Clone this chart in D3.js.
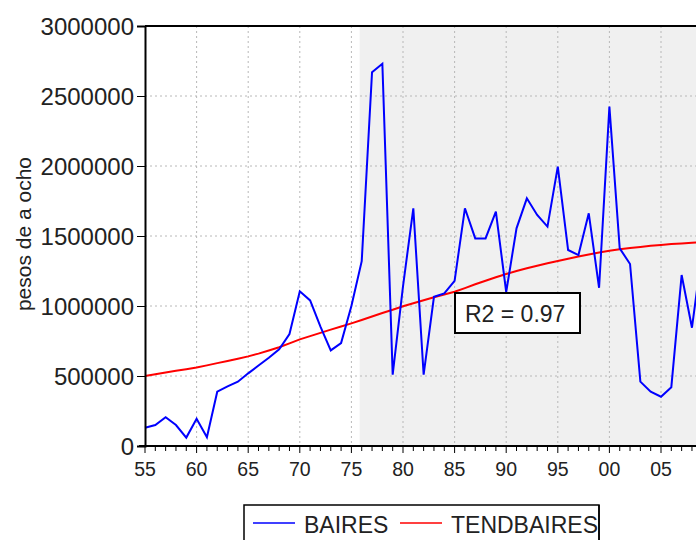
<!DOCTYPE html>
<html>
<head>
<meta charset="utf-8">
<script src="https://cdnjs.cloudflare.com/ajax/libs/d3/7.8.5/d3.min.js"></script>
<style>
body { margin: 0; background: #fff; }
svg text { font-family: "Liberation Sans", Arial, sans-serif; fill: #222; }
</style>
</head>
<body>
<div id="chart"></div>
<script>
// years 1755..1809
var years = d3.range(1755, 1810);

// BAIRES, pesos de a ocho
var baires = [130000, 150000, 205000, 150000, 60000, 195000, 62000, 388000, 426000, 459000,
    519000, 575000, 630000, 690000, 800000, 1105000, 1040000, 852000, 683000, 735000,
    1000000, 1320000, 2670000, 2730000, 510000, 1140000, 1698000, 510000, 1066000, 1090000,
    1180000, 1698000, 1483000, 1483000, 1674000, 1100000, 1555000, 1769000, 1650000, 1567000,
    1995000, 1400000, 1364000, 1662000, 1130000, 2424000, 1412000, 1300000, 460000, 388000,
    352000, 420000, 1221000, 845000, 1400000];

// TENDBAIRES (trend)
var tendbaires = [500000, 512000, 525000, 537000, 549000, 560000, 576000, 592000, 607000, 623000,
    640000, 660000, 682000, 705000, 733000, 762000, 785000, 808000, 831000, 853000,
    876000, 900000, 925000, 950000, 973000, 998000, 1020000, 1041000, 1062000, 1082000,
    1102000, 1128000, 1155000, 1180000, 1205000, 1229000, 1250000, 1269000, 1287000, 1305000,
    1322000, 1338000, 1353000, 1368000, 1382000, 1395000, 1405000, 1414000, 1422000, 1430000,
    1436000, 1442000, 1447000, 1452000, 1455000];

var yTicks = [0, 500000, 1000000, 1500000, 2000000, 2500000, 3000000];
var xTicks = [1755, 1760, 1765, 1770, 1775, 1780, 1785, 1790, 1795, 1800, 1805];
var shadeFrom = 1775.8;
var seriesNames = ["BAIRES", "TENDBAIRES"];
var r2Label = "R2 = 0.97";

/**
 * Constructor for the Baires chart
 */
function BairesChart(){
    var self = this;
    self.init();
};

BairesChart.prototype.init = function(){
    var self = this;
    self.width = 696;
    self.height = 540;
    self.left = 145;
    self.top = 26;
    self.bottom = 446;

    self.svg = d3.select("#chart").append("svg")
        .attr("width", self.width)
        .attr("height", self.height);

    self.x = d3.scaleLinear()
        .domain([1755, 1810])
        .range([self.left, self.left + 55 * 10.32]);
    self.y = d3.scaleLinear()
        .domain([0, 3000000])
        .range([self.bottom, self.top]);
};

BairesChart.prototype.update = function(){
    var self = this;
    var svg = self.svg;
    var x = self.x, y = self.y;

    //shaded period
    svg.append("rect")
        .attr("x", x(shadeFrom))
        .attr("y", self.top)
        .attr("width", self.width - x(shadeFrom))
        .attr("height", self.bottom - self.top)
        .attr("fill", "#f0f0f0");

    //grid
    svg.selectAll(".vgrid").data(xTicks.slice(1)).enter().append("line")
        .attr("x1", d => x(d)).attr("x2", d => x(d))
        .attr("y1", self.top).attr("y2", self.bottom)
        .attr("stroke", "#b8b8b8")
        .attr("stroke-dasharray", "2,3");
    svg.selectAll(".hgrid").data(yTicks.slice(1, -1)).enter().append("line")
        .attr("x1", self.left).attr("x2", self.width)
        .attr("y1", d => y(d)).attr("y2", d => y(d))
        .attr("stroke", "#b8b8b8")
        .attr("stroke-dasharray", "2,3");

    //lines
    var line = function(vals){
        return d3.line()
            .x((d, i) => x(years[i]))
            .y(d => y(d))(vals);
    };
    svg.append("path")
        .attr("d", line(tendbaires))
        .attr("fill", "none")
        .attr("stroke", "#ff0000")
        .attr("stroke-width", 2);
    svg.append("path")
        .attr("d", line(baires))
        .attr("fill", "none")
        .attr("stroke", "#0000ff")
        .attr("stroke-width", 2);

    //top frame
    svg.append("line")
        .attr("x1", self.left).attr("x2", self.width)
        .attr("y1", self.top).attr("y2", self.top)
        .attr("stroke", "#000").attr("stroke-width", 2);

    //y axis
    var yAxis = d3.axisLeft(y)
        .tickValues(yTicks)
        .tickSize(8)
        .tickPadding(3)
        .tickFormat(d3.format("d"));
    var gy = svg.append("g")
        .attr("transform", "translate(" + self.left + ",0)")
        .call(yAxis);
    gy.select(".domain").attr("stroke", "#000").attr("stroke-width", 2);
    gy.selectAll(".tick line").attr("stroke", "#000");
    gy.selectAll("text")
        .style("font-size", "24px")
        .attr("fill", "#222")
        .attr("dy", "0.36em");

    //x axis - minor ticks every year, labels every 5
    var gx = svg.append("g")
        .attr("transform", "translate(0," + self.bottom + ")");
    gx.append("line")
        .attr("x1", self.left - 6).attr("x2", self.width)
        .attr("stroke", "#000").attr("stroke-width", 2);
    gx.selectAll(".minor").data(d3.range(1755, 1811)).enter().append("line")
        .attr("x1", d => x(d)).attr("x2", d => x(d))
        .attr("y1", 0)
        .attr("y2", d => (d % 5 == 0) ? 7 : 5)
        .attr("stroke", "#000");
    gx.selectAll(".lbl").data(xTicks).enter().append("text")
        .attr("x", d => x(d))
        .attr("y", 30)
        .style("text-anchor", "middle")
        .style("font-size", "19.5px")
        .text(d => d3.format("02d")(d % 100));

    //axis title
    svg.append("text")
        .attr("transform", "translate(31,234) rotate(-90)")
        .style("text-anchor", "middle")
        .style("font-size", "21px")
        .text("pesos de a ocho");

    //R2 box
    var r2 = svg.append("g").attr("transform", "translate(455,293)");
    r2.append("rect")
        .attr("width", 125).attr("height", 40)
        .attr("fill", "#fff")
        .attr("stroke", "#000")
        .attr("stroke-width", 2);
    r2.append("text")
        .attr("x", 10).attr("y", 29)
        .style("font-size", "23px")
        .text(r2Label);

    //legend
    var lg = svg.append("g").attr("transform", "translate(244,505)");
    lg.append("rect")
        .attr("width", 355).attr("height", 50)
        .attr("fill", "#fff")
        .attr("stroke", "#000")
        .attr("stroke-width", 1.5);
    var colors = ["#0000ff", "#ff0000"];
    var offs = [9, 156];
    seriesNames.forEach(function(name, i){
        lg.append("line")
            .attr("x1", offs[i]).attr("x2", offs[i] + 42)
            .attr("y1", 18).attr("y2", 18)
            .attr("stroke", colors[i])
            .attr("stroke-width", 1.5);
        lg.append("text")
            .attr("x", offs[i] + 51)
            .attr("y", 28)
            .style("font-size", "23px")
            .text(name);
    });
    lg.append("line")
        .attr("x1", 355).attr("x2", 355)
        .attr("y1", 0).attr("y2", 50)
        .attr("stroke", "#000").attr("stroke-width", 1.5);
};

var chart = new BairesChart();
chart.update();
</script>
</body>
</html>
